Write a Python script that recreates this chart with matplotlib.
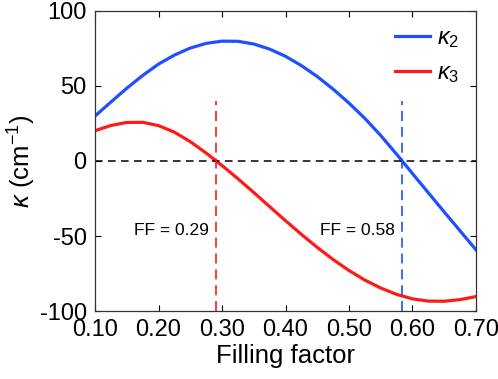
import numpy as np
import matplotlib
matplotlib.use('Agg')
import matplotlib.pyplot as plt

plt.rcParams['font.family'] = ['Liberation Sans', 'DejaVu Sans']
plt.rcParams['mathtext.fontset'] = 'custom'
plt.rcParams['mathtext.rm'] = 'Liberation Sans'
plt.rcParams['mathtext.it'] = 'Liberation Sans:italic'
plt.rcParams['axes.unicode_minus'] = False

# 数据
ff = [0.100, 0.125, 0.150, 0.175, 0.200, 0.225, 0.250, 0.275, 0.300, 0.325,
      0.350, 0.375, 0.400, 0.425, 0.450, 0.475, 0.500, 0.525, 0.550, 0.575,
      0.600, 0.625, 0.650, 0.675, 0.700]
kappa2 = [30.0, 39.3, 48.5, 57.0, 64.6, 70.6, 75.3, 78.4, 79.9, 79.8,
          78.0, 74.6, 69.8, 63.6, 56.3, 47.9, 38.6, 28.4, 17.0, 4.5,
          -8.4, -21.2, -34.0, -46.6, -59.2]
kappa3 = [20.2, 23.7, 25.7, 25.8, 23.6, 19.2, 12.9, 5.3, -3.0, -11.8,
          -21.0, -30.4, -39.8, -48.9, -57.6, -65.7, -73.0, -79.4, -84.7, -88.9,
          -91.9, -93.4, -93.5, -92.4, -90.4]
ff_marks = [0.291, 0.583]
ff_labels = ['FF = 0.29', 'FF = 0.58']
xticks = [0.1, 0.2, 0.3, 0.4, 0.5, 0.6, 0.7]
yticks = [-100, -50, 0, 50, 100]

blue = '#1f4fff'
red = '#ff1a1a'

fig = plt.figure(figsize=(4.98, 3.79), dpi=100)
ax = fig.add_axes([0.1908, 0.1794, 0.765, 0.7916])

ax.plot(ff, kappa2, color=blue, lw=2.3, label=r'$\kappa_2$',
        solid_joinstyle='round')
ax.plot(ff, kappa3, color=red, lw=2.3, label=r'$\kappa_3$',
        solid_joinstyle='round')
ax.axhline(0, color='k', lw=1.1, ls=(0, (5, 3.5)))

for x, c in zip(ff_marks, [red, blue]):
    ax.plot([x, x], [-100, 40], color=c, lw=1.2, ls=(0, (6, 3.5)))

ax.text(ff_marks[0] - 0.011, -46, ff_labels[0], fontsize=12.5,
        ha='right', va='center')
ax.text(ff_marks[1] - 0.011, -46, ff_labels[1], fontsize=12.5,
        ha='right', va='center')

ax.set_xlim(0.1, 0.7)
ax.set_ylim(-100, 100)
ax.set_xticks(xticks)
ax.set_xticklabels([f'{v:.2f}' for v in xticks])
ax.set_yticks(yticks)
ax.tick_params(direction='in', length=4, width=0.8, top=True, right=True,
               labelsize=17, pad=6, colors='k')
for s in ax.spines.values():
    s.set_linewidth(0.9)
    s.set_color('#333333')

ax.set_xlabel('Filling factor', fontsize=18.5, labelpad=2)
ax.set_ylabel(r'$\kappa$ (cm$^{-1}$)', fontsize=18.5, labelpad=1)

ax.legend(loc='upper right', frameon=False, fontsize=17, handlelength=1.5,
          handletextpad=0.3, labelspacing=0.5, borderaxespad=0.3,
          bbox_to_anchor=(1.0, 1.0))

fig.savefig('out.png', dpi=100)
